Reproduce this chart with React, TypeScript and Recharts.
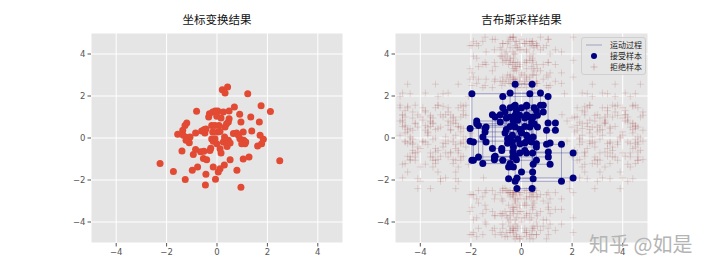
import React from "react";
import { ScatterChart, Scatter, XAxis, YAxis, CartesianGrid } from "recharts";

const TICKS = [-4, -2, 0, 2, 4];

// left: transformed samples
const transformedX = [
  -2.26, -1.73, -1.26, -0.98, -0.77, -0.44, -0.15, -0.46, -0.06, -0.81,
  -0.3, -0.17, -0.33, -0.07, -1.2, -1.27, -1.36, -1.56, -1.34, -1.2,
  -1.07, -1.23, -1.1, -0.85, -0.61, -0.5, -0.48, -0.21, -0.17, -0.21,
  -0.15, -1.39, -0.94, -0.85, -0.65, -0.52, -0.54, -0.41, -0.25, 0.21,
  0.42, 0.32, 1.22, 1.75, 2.12, 0.69, 0.03, 0.25, 0.48, -0.01,
  0.16, 0.48, 0.9, 1.34, 1.68, 0.95, 0.45, 0.38, 0.32, 0.08,
  0.03, 0.12, 0.65, 0.78, 1.04, 1.38, 1.71, 1.84, 1.77, 1.61,
  0.32, 0.45, 0.25, 0.38, 0.52, 0.4, 0.3, 0.91, 1.06, 1.14,
  0.98, 1.11, 0.85, -0.08, -0.01, 0.12, 0.16, 0.52, 1.04, 1.27,
  0.29, 0.79, 0.12, 0.05, 2.49, 0.95, -0.52, -0.44, -0.08, -0.28,
];
const transformedY = [
  -1.22, -1.59, -1.98, -1.54, -1.38, -1.73, -1.38, -2.24, -1.96, 1.27,
  1.16, 1.24, 1.0, 1.29, 0.71, 0.6, 0.37, 0.18, 0.13, 0.02,
  0.05, -0.11, -0.23, 0.24, 0.33, 0.4, 0.24, 0.6, 0.29, -0.05,
  -0.15, -0.62, -0.78, -0.55, -0.65, -0.63, -0.98, -1.03, -0.49, 2.3,
  2.43, 2.14, 2.11, 1.53, 1.26, 1.48, 1.29, 1.24, 1.29, 1.03,
  0.95, 0.92, 1.13, 1.0, 0.76, 0.76, 0.76, 0.68, 0.52, 0.6,
  0.29, 0.31, 0.21, 0.24, 0.29, 0.33, 0.13, -0.06, -0.27, -0.38,
  -0.03, -0.11, -0.19, -0.27, -0.24, -0.4, 0.05, -0.03, -0.11, -0.19,
  -0.27, -0.27, 0.13, -0.03, -0.27, -0.51, -0.71, -1.03, -1.0, -0.9,
  -1.29, -1.54, -1.46, -1.62, -1.08, -2.35, 0.37, 0.43, 0.6, -0.6,
];

// right: gibbs chain, x after each x-update and y after each y-update
const chainX = [
  -0.74, -1.96, 0.33, -0.45, 0.75, -0.25, 0.42, -0.18, 2.04, 0.2,
  -2.03, -1.44, 0.0, -0.74, 1.05, 1.34, 0.99, 1.58, -0.25, -1.04,
  0.46, -1.53, -0.45, 0.5, -1.77, -0.32, 0.59, -1.9, -1.4, 0.63,
  -0.07, 0.44, 0.0, -0.65, 0.86, 0.2, -0.36, 0.4, -0.84, -1.15,
  -0.78, 0.13, 1.13, 0.46, -0.51, -0.32, -1.7, -0.34, 1.06, -1.07,
  -0.2, 0.59, -0.06, -0.6, 0.13, -0.45, 0.33, -0.25, 0.2, -0.3,
  -0.15, -0.55,
];
const chainY = [
  -1.06, 2.11, 1.0, 2.14, 1.56, 2.56, -2.41, -1.9, -0.71, -0.15,
  0.45, 0.29, 1.44, 1.98, 0.71, 0.37, -0.3, -2.06, -0.87, 1.0,
  0.05, -1.22, 1.44, 0.68, 0.81, -0.43, -1.06, -0.19, 0.52, 1.08,
  -0.71, -1.62, 0.24, 1.24, 1.56, 0.13, -0.19, 0.76, 1.11, -0.5,
  -0.59, -0.24, -1.25, -1.94, -1.38, 0.6, -0.9, -0.67, -0.9, -1.03,
  1.3, -0.27, 0.4, 0.95, 0.55, 0.0, 0.52, 1.1, 1.51, 0.85,
  -0.05, -0.25,
];

// rejected proposals: x values on each row (y = chainY[i]) ...
const rejectedRowX = [
  [3.8, -4.2, 2.9, -2.4, 4.6, -3.5], [-3.1, 4.5, 1.7, -4.4, 2.6, 3.4], [-4.6, 3.3, -2.7, 4.2, -3.6, 2.2],
  [2.4, -3.8, 4.1, -2.9, 3.2, -4.7], [-2.2, 3.6, -4.8, 2.7, -3.3, 4.4], [4.7, -3.4, 2.8, -4.5, 3.7, -2.5],
  [-4.1, 1.9, 3.9, -2.6, 2.9, -3.6], [3.2, -4.7, -1.5, 4.0, -3.0, 2.3], [-3.6, 4.3, 2.5, -2.8, 3.5, -4.3],
  [2.7, -2.9, 4.8, -3.9, 1.8, -4.6], [-4.4, 3.5, -3.3, 2.4, 4.5, -2.3], [4.0, -2.4, 3.0, -3.7, 2.1, -4.5],
  [-3.9, 2.2, 4.6, -2.9, 3.4, -4.8], [-4.8, 3.7, -2.1, 2.8, -3.3, 4.3], [2.6, -3.5, 4.4, -4.2, 3.3, -2.6],
  [-2.8, 4.8, 3.1, -3.8, 2.2, -4.3], [-4.3, 2.3, -3.7, 3.8, -2.6, 4.6], [4.2, -2.5, 1.9, -4.0, 3.0, -3.2],
  [-3.2, 3.4, -4.5, 2.5, -2.3, 4.1], [2.1, -4.0, 4.7, -3.1, 3.6, -2.4], [-2.3, 3.9, -3.0, 4.6, -4.4, 2.8],
  [4.5, -4.6, 2.8, -3.4, 3.5, -2.7], [-3.4, 2.6, 4.0, -4.5, 3.2, -2.5], [3.3, -2.7, -4.2, 4.4, -3.5, 2.4],
  [-4.8, 4.1, 1.8, -3.6, 2.9, -2.9], [2.9, -3.1, 3.6, -4.1, 4.5, -2.2], [-2.6, 4.6, -4.4, 3.1, -3.4, 2.2],
  [3.5, -3.8, 2.4, -2.7, 4.2, -4.6], [-4.1, 2.0, 4.3, -3.2, 3.0, -2.4], [4.8, -2.2, -3.6, 2.9, -4.7, 3.8],
  [-3.0, 3.1, 2.2, -4.2, 4.0, -2.5], [2.5, -4.5, 3.9, -3.3, 3.1, -2.6], [-3.7, 4.4, -2.0, 2.7, -4.6, 3.5],
  [3.7, -2.9, 4.8, -3.8, 2.5, -4.3], [-4.2, 2.7, -3.3, 3.8, -2.4, 4.5], [4.0, -4.8, 3.2, -2.6, 2.4, -3.7],
  [-2.4, 3.8, -3.9, 2.9, -4.4, 4.6], [2.3, -3.6, 4.2, -4.7, 3.3, -2.8], [-4.7, 3.0, 1.6, -3.0, 4.1, -2.3],
  [3.4, -2.6, -4.0, 4.4, -3.4, 2.6], [-3.3, 4.7, 2.1, -2.5, 3.6, -4.3], [2.8, -4.3, 3.5, -3.1, 4.5, -2.3],
  [-2.1, 4.2, -3.8, 3.0, -4.7, 2.5], [4.4, -3.2, 2.6, -4.1, 3.5, -2.6], [-4.0, 3.3, -2.5, 4.3, -3.5, 2.4],
  [2.2, -4.6, 4.5, -2.9, 3.1, -3.8], [-3.5, 2.9, 3.7, -4.4, 4.6, -2.4], [4.6, -2.8, -4.1, 3.3, -3.4, 2.5],
  [-2.9, 3.6, 2.0, -4.2, 4.3, -3.6], [3.0, -4.4, 4.8, -2.7, 2.3, -3.3], [-3.8, 2.4, -2.3, 4.1, -4.6, 3.4],
  [4.3, -3.0, 3.4, -2.4, 2.7, -4.5], [-4.5, 3.2, 2.7, -3.4, 4.4, -2.8], [2.0, -2.7, 4.0, -4.3, 3.1, -3.5],
  [-3.6, 4.5, -4.7, 2.6, -2.5, 3.7], [3.9, -3.4, 2.3, -4.4, 4.7, -2.7], [-2.5, 2.8, 4.6, -3.7, 3.5, -4.6],
  [4.1, -4.1, -2.8, 2.5, -3.2, 3.4], [-3.1, 3.7, 2.5, -4.5, 4.4, -2.3], [2.7, -3.9, 4.2, -2.6, 3.3, -4.7],
  [-4.3, 3.1, -2.2, 4.5, -3.5, 2.3],
];
// ... and y values on each column (x = chainX[k])
const rejectedColY = [
  [3.6, -4.1, -3.0, 2.7, 4.5, -2.4], [4.4, -3.3, 3.1, -4.6, 2.5, -2.7], [-4.6, 3.9, -2.8, 4.6, -3.6, 2.9],
  [2.9, -3.7, 4.7, -2.5, 3.7, -4.4], [-2.7, 4.2, -4.4, 3.2, -3.5, 4.8], [3.4, -4.8, 4.0, -2.9, 2.8, -3.9],
  [-3.2, 4.6, 3.0, -4.3, 3.8, -2.6], [2.7, -4.2, 4.3, -3.3, 3.4, -4.7], [-3.8, 3.7, 4.8, -2.6, 2.9, -4.5],
  [4.1, -2.9, -4.5, 3.3, -3.7, 2.4], [-3.5, 3.3, 2.8, -4.6, 4.4, -2.7], [4.8, -4.0, -2.6, 3.6, -3.2, 2.5],
  [-2.9, 3.0, -4.7, 4.2, -3.8, 2.6], [3.8, -3.6, 4.5, -2.5, 2.9, -4.3], [-4.3, 2.9, -3.1, 4.7, -2.6, 3.6],
  [4.2, -2.6, 3.5, -4.4, 2.7, -3.4], [-3.9, 4.4, -4.8, 3.0, -2.7, 2.5], [3.1, -3.4, 4.1, -4.1, 2.6, -2.9],
  [-4.4, 3.6, 2.7, -3.1, 4.6, -2.5], [4.7, -2.7, -3.7, 3.4, -4.6, 2.8], [-3.0, 4.0, -4.2, 2.6, -2.6, 3.3],
  [3.5, -4.6, 4.6, -2.8, 2.4, -3.6], [-2.8, 2.6, -3.9, 4.3, -4.5, 3.6], [4.3, -3.1, 3.2, -4.3, 2.3, -2.4],
  [-4.7, 3.8, -2.9, 2.6, -3.8, 4.5], [2.8, -4.3, 4.8, -3.3, 3.6, -2.6], [-3.6, 4.5, -2.5, 3.0, -4.6, 2.7],
  [3.9, -3.9, 2.9, -2.7, 4.6, -4.5], [-4.1, 4.1, -3.4, 2.8, -2.5, 3.5], [3.3, -2.8, 4.4, -4.2, 2.6, -3.7],
  [-4.8, 3.5, -3.2, 4.5, -2.6, 2.7], [4.6, -4.4, 2.6, -3.4, 3.7, -2.3], [-2.6, 3.1, -4.0, 4.7, -3.5, 2.4],
  [4.0, -3.5, 3.7, -4.7, 2.6, -2.4], [-4.2, 2.8, -3.0, 4.3, -3.9, 3.5], [3.7, -4.7, 4.2, -2.5, 2.9, -3.6],
  [-3.3, 4.8, -2.7, 3.5, -4.3, 2.6], [2.6, -3.8, 3.4, -4.6, 4.5, -2.8], [-4.5, 4.3, -3.6, 2.7, -2.6, 3.9],
  [3.2, -2.5, 4.7, -3.5, 2.4, -4.4], [-3.7, 3.9, -4.6, 2.5, -2.9, 4.2], [4.5, -3.2, 2.7, -4.5, 3.6, -2.5],
  [-2.9, 4.0, -4.1, 3.1, -3.6, 2.5], [3.6, -4.8, 3.0, -2.7, 4.4, -3.3], [-4.0, 2.7, 4.6, -3.2, 3.5, -2.6],
  [4.8, -3.6, -2.8, 2.6, -4.4, 3.8], [-3.1, 3.4, -4.3, 4.4, -2.5, 2.8], [2.9, -4.5, 4.1, -3.5, 3.3, -2.7],
  [-3.4, 4.7, -3.3, 2.4, -4.6, 3.6], [4.2, -2.9, 3.6, -4.3, 2.7, -3.7], [-4.6, 3.2, -3.8, 4.6, -2.6, 2.5],
  [3.5, -4.0, 4.4, -2.8, 2.6, -4.6], [-2.7, 4.2, -4.8, 3.4, -3.5, 2.9], [4.1, -3.7, 2.8, -4.5, 3.7, -2.5],
  [-3.8, 3.0, -3.1, 4.5, -4.3, 2.6], [3.0, -4.2, 4.8, -2.6, 3.8, -3.5], [-4.8, 3.7, -2.6, 2.7, -3.9, 4.4],
  [4.4, -3.0, 3.3, -4.1, 2.5, -2.6], [-3.2, 4.6, -4.4, 3.6, -2.8, 2.8], [2.8, -3.4, 4.0, -4.7, 3.2, -2.5],
  [-4.3, 3.6, -2.9, 4.3, -3.6, 2.4], [3.9, -4.7, 4.5, -2.6, 3.0, -3.8],
];

const transformed = transformedX.map((x, i) => ({ x, y: transformedY[i] }));

const chainPath = [{ x: chainX[0], y: chainY[0] }];
for (let k = 1; k < chainX.length; k++) {
  chainPath.push({ x: chainX[k], y: chainY[k - 1] });
  chainPath.push({ x: chainX[k], y: chainY[k] });
}

const rejected: { x: number; y: number }[] = [];
rejectedRowX.forEach((xs, i) => xs.forEach((x) => rejected.push({ x, y: chainY[i] })));
rejectedColY.forEach((ys, k) => ys.forEach((y) => rejected.push({ x: chainX[k], y })));

const CJK = '"Noto Sans CJK SC", "DejaVu Sans", sans-serif';
const tickFmt = (v: number) => (v < 0 ? `\u2212${-v}` : `${v}`);
const tickStyle = { fontSize: 8.5, fill: "#555", fontFamily: "DejaVu Sans" };

const Cross = (props: any) => {
  const { cx, cy } = props;
  return (
    <path
      d={`M${cx - 3.5},${cy}h7M${cx},${cy - 3.5}v7`}
      stroke="#8B0000"
      strokeOpacity={0.12}
      strokeWidth={1}
    />
  );
};

function Axes({ yWidth }: { yWidth: number }) {
  return (
    <>
      <CartesianGrid fill="#E5E5E5" fillOpacity={1} stroke="#fff" strokeWidth={1} />
      <XAxis
        type="number"
        dataKey="x"
        domain={[-5, 5]}
        ticks={TICKS}
        allowDataOverflow
        axisLine={false}
        tickLine={{ stroke: "#555" }}
        tickSize={3.5}
        tickMargin={2}
        tick={tickStyle}
        tickFormatter={tickFmt}
        height={30}
      />
      <YAxis
        type="number"
        dataKey="y"
        domain={[-5, 5]}
        ticks={TICKS}
        allowDataOverflow
        axisLine={false}
        tickLine={{ stroke: "#555" }}
        tickSize={3.5}
        tickMargin={2}
        tick={tickStyle}
        tickFormatter={tickFmt}
        width={yWidth}
      />
    </>
  );
}

export default function App() {
  return (
    <div
      style={{
        position: "absolute",
        left: 0,
        top: 0,
        width: 720,
        height: 273,
        background: "#fff",
        overflow: "hidden",
      }}
    >
      <div style={{ position: "absolute", left: 91, width: 252, top: 11, textAlign: "center", fontFamily: CJK, fontSize: 11.5, color: "#111" }}>
        坐标变换结果
      </div>
      <div style={{ position: "absolute", left: 395, width: 253, top: 11, textAlign: "center", fontFamily: CJK, fontSize: 11.5, color: "#111" }}>
        吉布斯采样结果
      </div>

      <div style={{ position: "absolute", left: 0, top: 0 }}>
        <ScatterChart width={360} height={273} margin={{ top: 33, right: 17, bottom: 0, left: 0 }}>
          {Axes({ yWidth: 91 })}
          <Scatter
            data={transformed}
            isAnimationActive={false}
            shape={(p: any) => <circle cx={p.cx} cy={p.cy} r={3.5} fill="#E24A33" />}
          />
        </ScatterChart>
      </div>

      <div style={{ position: "absolute", left: 360, top: 0 }}>
        <ScatterChart width={360} height={273} margin={{ top: 33, right: 72, bottom: 0, left: 0 }}>
          {Axes({ yWidth: 35 })}
          <Scatter data={rejected} isAnimationActive={false} shape={Cross} />
          <Scatter
            data={chainPath}
            isAnimationActive={false}
            line={{ stroke: "#000080", strokeOpacity: 0.3, strokeWidth: 1 }}
            lineType="joint"
            shape={(p: any) => <circle cx={p.cx} cy={p.cy} r={3.5} fill="#000080" />}
          />
        </ScatterChart>
      </div>

      {/* legend */}
      <div
        style={{
          position: "absolute",
          left: 581,
          top: 37,
          width: 63,
          height: 36,
          background: "rgba(229,229,229,0.8)",
          border: "1px solid #cfcfcf",
          borderRadius: 3,
          fontFamily: CJK,
          fontSize: 8,
          color: "#222",
        }}
      >
        <svg width={63} height={36} style={{ position: "absolute", left: 0, top: 0 }}>
          <line x1={4} x2={20} y1={7} y2={7} stroke="#000080" strokeOpacity={0.3} strokeWidth={1} />
          <circle cx={12} cy={18} r={3} fill="#000080" />
          <path d="M8.5,29h7M12,25.5v7" stroke="#8B0000" strokeOpacity={0.2} />
        </svg>
        <div style={{ position: "absolute", left: 28, top: 1, lineHeight: "11px" }}>运动过程</div>
        <div style={{ position: "absolute", left: 28, top: 12, lineHeight: "11px" }}>接受样本</div>
        <div style={{ position: "absolute", left: 28, top: 23, lineHeight: "11px" }}>拒绝样本</div>
      </div>

      {/* watermark */}
      <div
        style={{
          position: "absolute",
          left: 589,
          top: 229,
          fontFamily: CJK,
          fontSize: 20,
          color: "#b4b4b4",
          whiteSpace: "nowrap",
        }}
      >
        知乎 @如是
      </div>
    </div>
  );
}
